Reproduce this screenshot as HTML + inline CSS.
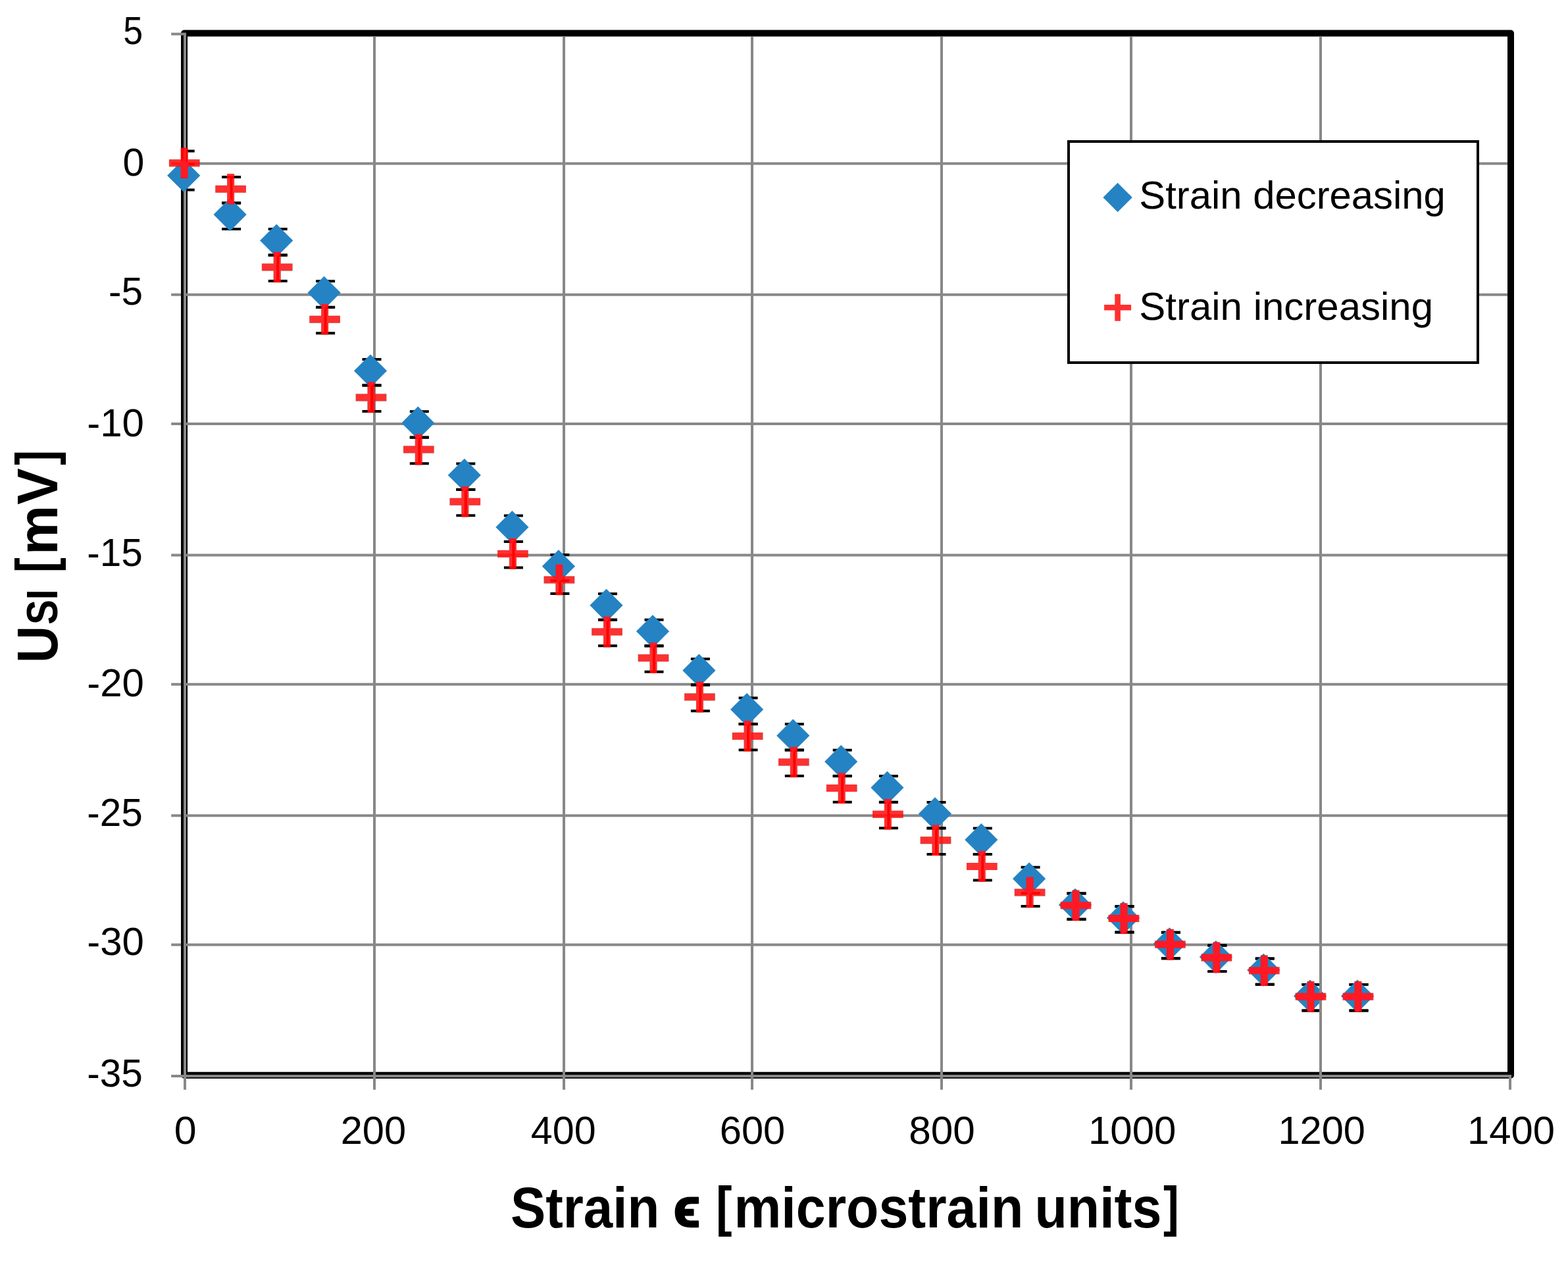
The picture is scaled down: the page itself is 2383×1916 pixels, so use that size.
<!DOCTYPE html>
<html lang="en"><head><meta charset="utf-8"><title>Strain chart</title>
<style>html,body{margin:0;padding:0;background:#fff}body{width:2383px;height:1916px;overflow:hidden}svg{display:block;filter:blur(0.6px)}</style>
</head><body>
<svg width="2383" height="1916" viewBox="0 0 2383 1916" role="img" aria-label="Strain chart">
<defs><clipPath id="pc"><rect x="285" y="40" width="2020" height="1600"/></clipPath></defs>
<rect x="0" y="0" width="2383" height="1916" fill="#ffffff"/>
<rect x="280.0" y="50.6" width="2016.0" height="1583.2" fill="none" stroke="#000" stroke-width="10" stroke-linejoin="round"/>
<g stroke="#888888" stroke-width="4" fill="none">
<line x1="569" y1="55.6" x2="569" y2="1655.7"/>
<line x1="857" y1="55.6" x2="857" y2="1655.7"/>
<line x1="1143" y1="55.6" x2="1143" y2="1655.7"/>
<line x1="1431" y1="55.6" x2="1431" y2="1655.7"/>
<line x1="1719" y1="55.6" x2="1719" y2="1655.7"/>
<line x1="2007" y1="55.6" x2="2007" y2="1655.7"/>
<line x1="260.2" y1="248.4" x2="2291.0" y2="248.4"/>
<line x1="260.2" y1="447.7" x2="2291.0" y2="447.7"/>
<line x1="260.2" y1="644.0" x2="2291.0" y2="644.0"/>
<line x1="260.2" y1="843.5" x2="2291.0" y2="843.5"/>
<line x1="260.2" y1="1039.8" x2="2291.0" y2="1039.8"/>
<line x1="260.2" y1="1239.2" x2="2291.0" y2="1239.2"/>
<line x1="260.2" y1="1435.6" x2="2291.0" y2="1435.6"/>
<line x1="281.0" y1="49.7" x2="281.0" y2="1655.7"/>
<line x1="260.2" y1="1635.0" x2="2297" y2="1635.0"/>
<line x1="260.2" y1="51.7" x2="281.0" y2="51.7"/>
<line x1="2295" y1="1635.0" x2="2295" y2="1655.7"/>
</g>
<rect x="275" y="56" width="4" height="1573" fill="#000"/>
<rect x="1624" y="215" width="622" height="336" fill="#fff" stroke="#000" stroke-width="4"/>
<g clip-path="url(#pc)" stroke="#000" stroke-width="4" fill="none">
<path d="M266.7 249.2H295.7M266.7 288.6H295.7M281.2 249.2V288.6"/>
<path d="M337.1 308.6H366.1M337.1 348.0H366.1M351.6 308.6V348.0"/>
<path d="M407.7 348.1H436.7M407.7 387.5H436.7M422.2 348.1V387.5"/>
<path d="M480.1 427.3H509.1M480.1 466.7H509.1M494.6 427.3V466.7"/>
<path d="M550.5 546.0H579.5M550.5 585.4H579.5M565.0 546.0V585.4"/>
<path d="M622.8 625.2H651.8M622.8 664.6H651.8M637.3 625.2V664.6"/>
<path d="M693.3 704.4H722.3M693.3 743.8H722.3M707.8 704.4V743.8"/>
<path d="M765.9 783.5H794.9M765.9 822.9H794.9M780.4 783.5V822.9"/>
<path d="M836.4 842.9H865.4M836.4 882.3H865.4M850.9 842.9V882.3"/>
<path d="M909.0 902.3H938.0M909.0 941.7H938.0M923.5 902.3V941.7"/>
<path d="M979.5 941.8H1008.5M979.5 981.2H1008.5M994.0 941.8V981.2"/>
<path d="M1049.9 1001.2H1078.9M1049.9 1040.6H1078.9M1064.4 1001.2V1040.6"/>
<path d="M1122.6 1060.6H1151.6M1122.6 1100.0H1151.6M1137.1 1060.6V1100.0"/>
<path d="M1192.8 1100.2H1221.8M1192.8 1139.6H1221.8M1207.3 1100.2V1139.6"/>
<path d="M1265.7 1139.7H1294.7M1265.7 1179.1H1294.7M1280.2 1139.7V1179.1"/>
<path d="M1335.9 1179.3H1364.9M1335.9 1218.7H1364.9M1350.4 1179.3V1218.7"/>
<path d="M1408.5 1218.9H1437.5M1408.5 1258.3H1437.5M1423.0 1218.9V1258.3"/>
<path d="M1478.8 1258.5H1507.8M1478.8 1297.9H1507.8M1493.3 1258.5V1297.9"/>
<path d="M1551.6 1317.8H1580.6M1551.6 1357.2H1580.6M1566.1 1317.8V1357.2"/>
<path d="M1621.5 1357.4H1650.5M1621.5 1396.8H1650.5M1636.0 1357.4V1396.8"/>
<path d="M1694.5 1377.2H1723.5M1694.5 1416.6H1723.5M1709.0 1377.2V1416.6"/>
<path d="M1764.9 1416.8H1793.9M1764.9 1456.2H1793.9M1779.4 1416.8V1456.2"/>
<path d="M1835.4 1436.6H1864.4M1835.4 1476.0H1864.4M1849.9 1436.6V1476.0"/>
<path d="M1907.8 1456.4H1936.8M1907.8 1495.8H1936.8M1922.3 1456.4V1495.8"/>
<path d="M1978.5 1496.0H2007.5M1978.5 1535.4H2007.5M1993.0 1496.0V1535.4"/>
<path d="M2050.5 1496.0H2079.5M2050.5 1535.4H2079.5M2065.0 1496.0V1535.4"/>
<path d="M266.7 229.4H295.7M266.7 268.8H295.7M281.2 229.4V268.8"/>
<path d="M337.1 269.0H366.1M337.1 308.4H366.1M351.6 269.0V308.4"/>
<path d="M407.7 387.7H436.7M407.7 427.1H436.7M422.2 387.7V427.1"/>
<path d="M480.1 466.9H509.1M480.1 506.3H509.1M494.6 466.9V506.3"/>
<path d="M550.5 585.6H579.5M550.5 625.0H579.5M565.0 585.6V625.0"/>
<path d="M622.8 664.8H651.8M622.8 704.2H651.8M637.3 664.8V704.2"/>
<path d="M693.3 743.9H722.3M693.3 783.3H722.3M707.8 743.9V783.3"/>
<path d="M765.9 823.1H794.9M765.9 862.5H794.9M780.4 823.1V862.5"/>
<path d="M836.4 862.7H865.4M836.4 902.1H865.4M850.9 862.7V902.1"/>
<path d="M909.0 941.8H938.0M909.0 981.2H938.0M923.5 941.8V981.2"/>
<path d="M979.5 981.4H1008.5M979.5 1020.8H1008.5M994.0 981.4V1020.8"/>
<path d="M1049.9 1040.8H1078.9M1049.9 1080.2H1078.9M1064.4 1040.8V1080.2"/>
<path d="M1122.6 1100.2H1151.6M1122.6 1139.6H1151.6M1137.1 1100.2V1139.6"/>
<path d="M1192.8 1139.7H1221.8M1192.8 1179.1H1221.8M1207.3 1139.7V1179.1"/>
<path d="M1265.7 1179.3H1294.7M1265.7 1218.7H1294.7M1280.2 1179.3V1218.7"/>
<path d="M1335.9 1218.9H1364.9M1335.9 1258.3H1364.9M1350.4 1218.9V1258.3"/>
<path d="M1408.5 1258.5H1437.5M1408.5 1297.9H1437.5M1423.0 1258.5V1297.9"/>
<path d="M1478.8 1298.1H1507.8M1478.8 1337.5H1507.8M1493.3 1298.1V1337.5"/>
<path d="M1551.6 1337.6H1580.6M1551.6 1377.0H1580.6M1566.1 1337.6V1377.0"/>
<path d="M1621.5 1357.4H1650.5M1621.5 1396.8H1650.5M1636.0 1357.4V1396.8"/>
<path d="M1694.5 1377.2H1723.5M1694.5 1416.6H1723.5M1709.0 1377.2V1416.6"/>
<path d="M1764.9 1416.8H1793.9M1764.9 1456.2H1793.9M1779.4 1416.8V1456.2"/>
<path d="M1835.4 1436.6H1864.4M1835.4 1476.0H1864.4M1849.9 1436.6V1476.0"/>
<path d="M1907.8 1456.4H1936.8M1907.8 1495.8H1936.8M1922.3 1456.4V1495.8"/>
<path d="M1978.5 1496.0H2007.5M1978.5 1535.4H2007.5M1993.0 1496.0V1535.4"/>
<path d="M2050.5 1496.0H2079.5M2050.5 1535.4H2079.5M2065.0 1496.0V1535.4"/>
</g>
<g fill="#2583c3">
<path d="M279.2 241.6L304.3 266.7L279.2 291.8L254.1 266.7Z"/>
<path d="M349.6 301.0L374.7 326.1L349.6 351.2L324.5 326.1Z"/>
<path d="M420.2 340.5L445.3 365.6L420.2 390.7L395.1 365.6Z"/>
<path d="M492.6 419.7L517.7 444.8L492.6 469.9L467.5 444.8Z"/>
<path d="M563.0 538.4L588.1 563.5L563.0 588.6L537.9 563.5Z"/>
<path d="M635.3 617.6L660.4 642.7L635.3 667.8L610.2 642.7Z"/>
<path d="M705.8 696.8L730.9 721.9L705.8 747.0L680.7 721.9Z"/>
<path d="M778.4 775.9L803.5 801.0L778.4 826.1L753.3 801.0Z"/>
<path d="M848.9 835.3L874.0 860.4L848.9 885.5L823.8 860.4Z"/>
<path d="M921.5 894.7L946.6 919.8L921.5 944.9L896.4 919.8Z"/>
<path d="M992.0 934.2L1017.1 959.3L992.0 984.4L966.9 959.3Z"/>
<path d="M1062.4 993.6L1087.5 1018.7L1062.4 1043.8L1037.3 1018.7Z"/>
<path d="M1135.1 1053.0L1160.2 1078.1L1135.1 1103.2L1110.0 1078.1Z"/>
<path d="M1205.3 1092.6L1230.4 1117.7L1205.3 1142.8L1180.2 1117.7Z"/>
<path d="M1278.2 1132.1L1303.3 1157.2L1278.2 1182.3L1253.1 1157.2Z"/>
<path d="M1348.4 1171.7L1373.5 1196.8L1348.4 1221.9L1323.3 1196.8Z"/>
<path d="M1421.0 1211.3L1446.1 1236.4L1421.0 1261.5L1395.9 1236.4Z"/>
<path d="M1491.3 1250.9L1516.4 1276.0L1491.3 1301.1L1466.2 1276.0Z"/>
<path d="M1564.1 1310.2L1589.2 1335.3L1564.1 1360.4L1539.0 1335.3Z"/>
<path d="M1634.0 1349.8L1659.1 1374.9L1634.0 1400.0L1608.9 1374.9Z"/>
<path d="M1707.0 1369.6L1732.1 1394.7L1707.0 1419.8L1681.9 1394.7Z"/>
<path d="M1777.4 1409.2L1802.5 1434.3L1777.4 1459.4L1752.3 1434.3Z"/>
<path d="M1847.9 1429.0L1873.0 1454.1L1847.9 1479.2L1822.8 1454.1Z"/>
<path d="M1920.3 1448.8L1945.4 1473.9L1920.3 1499.0L1895.2 1473.9Z"/>
<path d="M1991.0 1488.4L2016.1 1513.5L1991.0 1538.6L1965.9 1513.5Z"/>
<path d="M2063.0 1488.4L2088.1 1513.5L2063.0 1538.6L2037.9 1513.5Z"/>
</g>
<rect x="2005" y="1480" width="4" height="70" fill="#888888"/>
<g fill="#000" fill-opacity="0.81">
<path d="M274.7 224.4H285.7V242.2H303.5V253.2H285.7V271.0H274.7V253.2H256.9V242.2H274.7Z"/>
<path d="M345.1 264.0H356.1V281.8H373.9V292.8H356.1V310.6H345.1V292.8H327.3V281.8H345.1Z"/>
<path d="M415.7 382.7H426.7V400.5H444.5V411.5H426.7V429.3H415.7V411.5H397.9V400.5H415.7Z"/>
<path d="M488.1 461.9H499.1V479.7H516.9V490.7H499.1V508.5H488.1V490.7H470.3V479.7H488.1Z"/>
<path d="M558.5 580.6H569.5V598.4H587.3V609.4H569.5V627.2H558.5V609.4H540.7V598.4H558.5Z"/>
<path d="M630.8 659.8H641.8V677.6H659.6V688.6H641.8V706.4H630.8V688.6H613.0V677.6H630.8Z"/>
<path d="M701.3 738.9H712.3V756.7H730.1V767.7H712.3V785.5H701.3V767.7H683.5V756.7H701.3Z"/>
<path d="M773.9 818.1H784.9V835.9H802.7V846.9H784.9V864.7H773.9V846.9H756.1V835.9H773.9Z"/>
<path d="M844.4 857.7H855.4V875.5H873.2V886.5H855.4V904.3H844.4V886.5H826.6V875.5H844.4Z"/>
<path d="M917.0 936.8H928.0V954.6H945.8V965.6H928.0V983.4H917.0V965.6H899.2V954.6H917.0Z"/>
<path d="M987.5 976.4H998.5V994.2H1016.3V1005.2H998.5V1023.0H987.5V1005.2H969.7V994.2H987.5Z"/>
<path d="M1057.9 1035.8H1068.9V1053.6H1086.7V1064.6H1068.9V1082.4H1057.9V1064.6H1040.1V1053.6H1057.9Z"/>
<path d="M1130.6 1095.2H1141.6V1113.0H1159.4V1124.0H1141.6V1141.8H1130.6V1124.0H1112.8V1113.0H1130.6Z"/>
<path d="M1200.8 1134.7H1211.8V1152.5H1229.6V1163.5H1211.8V1181.3H1200.8V1163.5H1183.0V1152.5H1200.8Z"/>
<path d="M1273.7 1174.3H1284.7V1192.1H1302.5V1203.1H1284.7V1220.9H1273.7V1203.1H1255.9V1192.1H1273.7Z"/>
<path d="M1343.9 1213.9H1354.9V1231.7H1372.7V1242.7H1354.9V1260.5H1343.9V1242.7H1326.1V1231.7H1343.9Z"/>
<path d="M1416.5 1253.5H1427.5V1271.3H1445.3V1282.3H1427.5V1300.1H1416.5V1282.3H1398.7V1271.3H1416.5Z"/>
<path d="M1486.8 1293.1H1497.8V1310.9H1515.6V1321.9H1497.8V1339.7H1486.8V1321.9H1469.0V1310.9H1486.8Z"/>
<path d="M1559.6 1332.6H1570.6V1350.4H1588.4V1361.4H1570.6V1379.2H1559.6V1361.4H1541.8V1350.4H1559.6Z"/>
<path d="M1629.5 1352.4H1640.5V1370.2H1658.3V1381.2H1640.5V1399.0H1629.5V1381.2H1611.7V1370.2H1629.5Z"/>
<path d="M1702.5 1372.2H1713.5V1390.0H1731.3V1401.0H1713.5V1418.8H1702.5V1401.0H1684.7V1390.0H1702.5Z"/>
<path d="M1772.9 1411.8H1783.9V1429.6H1801.7V1440.6H1783.9V1458.4H1772.9V1440.6H1755.1V1429.6H1772.9Z"/>
<path d="M1843.4 1431.6H1854.4V1449.4H1872.2V1460.4H1854.4V1478.2H1843.4V1460.4H1825.6V1449.4H1843.4Z"/>
<path d="M1915.8 1451.4H1926.8V1469.2H1944.6V1480.2H1926.8V1498.0H1915.8V1480.2H1898.0V1469.2H1915.8Z"/>
<path d="M1986.5 1491.0H1997.5V1508.8H2015.3V1519.8H1997.5V1537.6H1986.5V1519.8H1968.7V1508.8H1986.5Z"/>
<path d="M2058.5 1491.0H2069.5V1508.8H2087.3V1519.8H2069.5V1537.6H2058.5V1519.8H2040.7V1508.8H2058.5Z"/>
</g>
<g fill="#ff0000" style="mix-blend-mode:screen">
<path d="M274.7 224.4H285.7V242.2H303.5V253.2H285.7V271.0H274.7V253.2H256.9V242.2H274.7Z"/>
<path d="M345.1 264.0H356.1V281.8H373.9V292.8H356.1V310.6H345.1V292.8H327.3V281.8H345.1Z"/>
<path d="M415.7 382.7H426.7V400.5H444.5V411.5H426.7V429.3H415.7V411.5H397.9V400.5H415.7Z"/>
<path d="M488.1 461.9H499.1V479.7H516.9V490.7H499.1V508.5H488.1V490.7H470.3V479.7H488.1Z"/>
<path d="M558.5 580.6H569.5V598.4H587.3V609.4H569.5V627.2H558.5V609.4H540.7V598.4H558.5Z"/>
<path d="M630.8 659.8H641.8V677.6H659.6V688.6H641.8V706.4H630.8V688.6H613.0V677.6H630.8Z"/>
<path d="M701.3 738.9H712.3V756.7H730.1V767.7H712.3V785.5H701.3V767.7H683.5V756.7H701.3Z"/>
<path d="M773.9 818.1H784.9V835.9H802.7V846.9H784.9V864.7H773.9V846.9H756.1V835.9H773.9Z"/>
<path d="M844.4 857.7H855.4V875.5H873.2V886.5H855.4V904.3H844.4V886.5H826.6V875.5H844.4Z"/>
<path d="M917.0 936.8H928.0V954.6H945.8V965.6H928.0V983.4H917.0V965.6H899.2V954.6H917.0Z"/>
<path d="M987.5 976.4H998.5V994.2H1016.3V1005.2H998.5V1023.0H987.5V1005.2H969.7V994.2H987.5Z"/>
<path d="M1057.9 1035.8H1068.9V1053.6H1086.7V1064.6H1068.9V1082.4H1057.9V1064.6H1040.1V1053.6H1057.9Z"/>
<path d="M1130.6 1095.2H1141.6V1113.0H1159.4V1124.0H1141.6V1141.8H1130.6V1124.0H1112.8V1113.0H1130.6Z"/>
<path d="M1200.8 1134.7H1211.8V1152.5H1229.6V1163.5H1211.8V1181.3H1200.8V1163.5H1183.0V1152.5H1200.8Z"/>
<path d="M1273.7 1174.3H1284.7V1192.1H1302.5V1203.1H1284.7V1220.9H1273.7V1203.1H1255.9V1192.1H1273.7Z"/>
<path d="M1343.9 1213.9H1354.9V1231.7H1372.7V1242.7H1354.9V1260.5H1343.9V1242.7H1326.1V1231.7H1343.9Z"/>
<path d="M1416.5 1253.5H1427.5V1271.3H1445.3V1282.3H1427.5V1300.1H1416.5V1282.3H1398.7V1271.3H1416.5Z"/>
<path d="M1486.8 1293.1H1497.8V1310.9H1515.6V1321.9H1497.8V1339.7H1486.8V1321.9H1469.0V1310.9H1486.8Z"/>
<path d="M1559.6 1332.6H1570.6V1350.4H1588.4V1361.4H1570.6V1379.2H1559.6V1361.4H1541.8V1350.4H1559.6Z"/>
<path d="M1629.5 1352.4H1640.5V1370.2H1658.3V1381.2H1640.5V1399.0H1629.5V1381.2H1611.7V1370.2H1629.5Z"/>
<path d="M1702.5 1372.2H1713.5V1390.0H1731.3V1401.0H1713.5V1418.8H1702.5V1401.0H1684.7V1390.0H1702.5Z"/>
<path d="M1772.9 1411.8H1783.9V1429.6H1801.7V1440.6H1783.9V1458.4H1772.9V1440.6H1755.1V1429.6H1772.9Z"/>
<path d="M1843.4 1431.6H1854.4V1449.4H1872.2V1460.4H1854.4V1478.2H1843.4V1460.4H1825.6V1449.4H1843.4Z"/>
<path d="M1915.8 1451.4H1926.8V1469.2H1944.6V1480.2H1926.8V1498.0H1915.8V1480.2H1898.0V1469.2H1915.8Z"/>
<path d="M1986.5 1491.0H1997.5V1508.8H2015.3V1519.8H1997.5V1537.6H1986.5V1519.8H1968.7V1508.8H1986.5Z"/>
<path d="M2058.5 1491.0H2069.5V1508.8H2087.3V1519.8H2069.5V1537.6H2058.5V1519.8H2040.7V1508.8H2058.5Z"/>
</g>
<g fill="#2583c3"><path d="M1698.6 277.8L1720.8 300.0L1698.6 322.2L1676.4 300.0Z"/></g>
<g fill="#ff3030"><path d="M1694.3 446.7H1702.9V462.9H1719.1V471.5H1702.9V487.7H1694.3V471.5H1678.1V462.9H1694.3Z"/></g>
<text transform="translate(187.27 67.30) scale(0.9111 1)" font-family='"Liberation Sans", sans-serif' font-size="59.0" font-weight="normal" fill="#000" >5</text>
<text transform="translate(186.60 266.60) scale(1.0000 1)" font-family='"Liberation Sans", sans-serif' font-size="59.0" font-weight="normal" fill="#000" >0</text>
<text transform="translate(165.03 463.20) scale(0.9915 1)" font-family='"Liberation Sans", sans-serif' font-size="59.0" font-weight="normal" fill="#000" >-5</text>
<text transform="translate(132.15 662.70) scale(1.0175 1)" font-family='"Liberation Sans", sans-serif' font-size="59.0" font-weight="normal" fill="#000" >-10</text>
<text transform="translate(132.22 859.90) scale(0.9925 1)" font-family='"Liberation Sans", sans-serif' font-size="59.0" font-weight="normal" fill="#000" >-15</text>
<text transform="translate(132.15 1058.20) scale(1.0175 1)" font-family='"Liberation Sans", sans-serif' font-size="59.0" font-weight="normal" fill="#000" >-20</text>
<text transform="translate(132.22 1255.10) scale(0.9925 1)" font-family='"Liberation Sans", sans-serif' font-size="59.0" font-weight="normal" fill="#000" >-25</text>
<text transform="translate(132.15 1451.40) scale(1.0175 1)" font-family='"Liberation Sans", sans-serif' font-size="59.0" font-weight="normal" fill="#000" >-30</text>
<text transform="translate(132.22 1650.80) scale(0.9925 1)" font-family='"Liberation Sans", sans-serif' font-size="59.0" font-weight="normal" fill="#000" >-35</text>
<text transform="translate(264.64 1738.00) scale(1.0321 1)" font-family='"Liberation Sans", sans-serif' font-size="59.0" font-weight="normal" fill="#000" >0</text>
<text transform="translate(517.67 1738.00) scale(1.0108 1)" font-family='"Liberation Sans", sans-serif' font-size="59.0" font-weight="normal" fill="#000" >200</text>
<text transform="translate(806.80 1738.00) scale(1.0042 1)" font-family='"Liberation Sans", sans-serif' font-size="59.0" font-weight="normal" fill="#000" >400</text>
<text transform="translate(1093.77 1738.00) scale(1.0108 1)" font-family='"Liberation Sans", sans-serif' font-size="59.0" font-weight="normal" fill="#000" >600</text>
<text transform="translate(1381.34 1738.00) scale(1.0215 1)" font-family='"Liberation Sans", sans-serif' font-size="59.0" font-weight="normal" fill="#000" >800</text>
<text transform="translate(1654.02 1738.00) scale(1.0161 1)" font-family='"Liberation Sans", sans-serif' font-size="59.0" font-weight="normal" fill="#000" >1000</text>
<text transform="translate(1942.46 1738.00) scale(1.0089 1)" font-family='"Liberation Sans", sans-serif' font-size="59.0" font-weight="normal" fill="#000" >1200</text>
<text transform="translate(2230.04 1738.00) scale(1.0121 1)" font-family='"Liberation Sans", sans-serif' font-size="59.0" font-weight="normal" fill="#000" >1400</text>
<text transform="translate(1731.31 316.80) scale(0.9972 1)" font-family='"Liberation Sans", sans-serif' font-size="60.0" font-weight="normal" fill="#000" >Strain decreasing</text>
<text transform="translate(1731.30 485.50) scale(0.9998 1)" font-family='"Liberation Sans", sans-serif' font-size="60.0" font-weight="normal" fill="#000" >Strain increasing</text>
<text font-family='"Liberation Sans", sans-serif' font-weight="bold" fill="#000"><tspan x="776.06" y="1864.60" font-size="87.5" textLength="226.08" lengthAdjust="spacingAndGlyphs" >Strain</tspan> <tspan x="1023.43" y="1864.10" font-size="83.125" textLength="40.75" lengthAdjust="spacingAndGlyphs" stroke="#000" stroke-width="2.4" stroke-linejoin="round">ϵ</tspan> <tspan x="1088.01" y="1861.80" font-size="84.0" textLength="24.55" lengthAdjust="spacingAndGlyphs" >[</tspan><tspan x="1115.56" y="1864.60" font-size="87.5" textLength="439.67" lengthAdjust="spacingAndGlyphs" >microstrain</tspan> <tspan x="1572.48" y="1864.60" font-size="87.5" textLength="192.92" lengthAdjust="spacingAndGlyphs" >units</tspan><tspan x="1768.05" y="1861.80" font-size="84.0" textLength="23.91" lengthAdjust="spacingAndGlyphs" >]</tspan></text>
<text transform="rotate(-90)" font-family='"Liberation Sans", sans-serif' font-weight="bold" fill="#000"><tspan x="-1007.17" y="86.80" font-size="87.0" textLength="56.20" lengthAdjust="spacingAndGlyphs" >U</tspan><tspan x="-948.89" y="86.80" font-size="67.0" textLength="53.43" lengthAdjust="spacingAndGlyphs" >SI</tspan> <tspan x="-870.11" y="83.20" font-size="83.8" textLength="22.96" lengthAdjust="spacingAndGlyphs" >[</tspan><tspan x="-843.20" y="86.80" font-size="85.0" textLength="75.59" lengthAdjust="spacingAndGlyphs" >m</tspan><tspan x="-766.65" y="86.80" font-size="87.0" textLength="55.34" lengthAdjust="spacingAndGlyphs" >V</tspan><tspan x="-706.72" y="83.20" font-size="83.8" textLength="22.96" lengthAdjust="spacingAndGlyphs" >]</tspan></text>
</svg>
</body></html>
